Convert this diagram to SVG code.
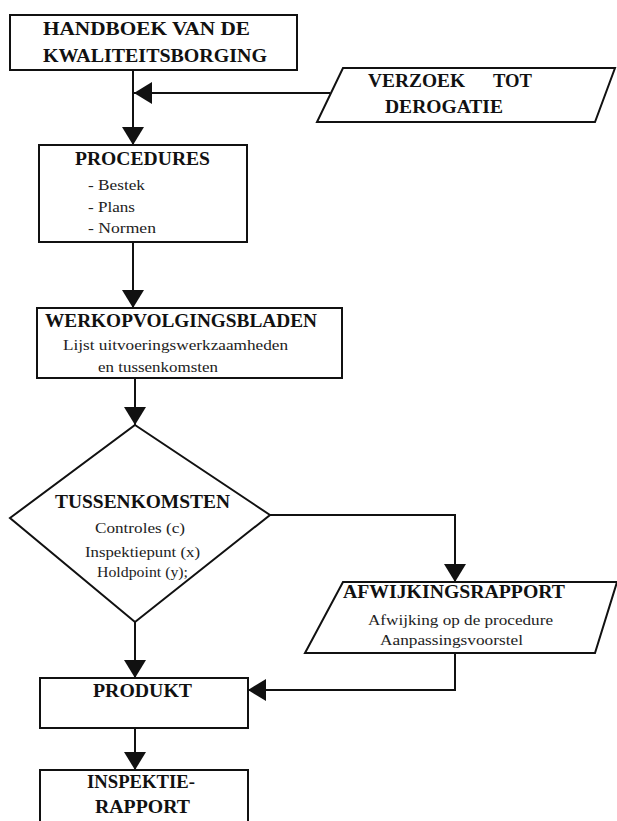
<svg xmlns="http://www.w3.org/2000/svg" width="617" height="821" viewBox="0 0 617 821">
<style>
.box{fill:#fff;stroke:#111;stroke-width:2}
.ln{fill:none;stroke:#111;stroke-width:2}
.h{font-weight:bold;font-size:18px;fill:#111}
.t{font-size:15px;fill:#222}
</style>
<defs>
<marker id="ah" viewBox="0 0 18 22" refX="18" refY="11" markerWidth="18" markerHeight="22" markerUnits="userSpaceOnUse" orient="auto">
<path d="M0,0 L18,11 L0,22 Z" fill="#111"/>
</marker>
</defs>
<rect width="617" height="821" fill="#fff"/>
<g id="connectors">
<line class="ln" x1="133" y1="70" x2="133" y2="145" marker-end="url(#ah)"/>
<line class="ln" x1="330" y1="93" x2="134" y2="93" marker-end="url(#ah)"/>
<line class="ln" x1="133" y1="242" x2="133" y2="308" marker-end="url(#ah)"/>
<line class="ln" x1="135" y1="378" x2="135" y2="425" marker-end="url(#ah)"/>
<polyline class="ln" points="270,515 455,515 455,582" marker-end="url(#ah)"/>
<line class="ln" x1="135" y1="622" x2="135" y2="678" marker-end="url(#ah)"/>
<polyline class="ln" points="455,653 455,690 248,690" marker-end="url(#ah)"/>
<line class="ln" x1="135" y1="728" x2="135" y2="770" marker-end="url(#ah)"/>
</g>
<g font-family="Liberation Serif, serif">
<g id="handboek">
<rect class="box" x="10" y="15" width="287" height="55"/>
<text class="h" x="43" y="35" textLength="207" lengthAdjust="spacingAndGlyphs">HANDBOEK  VAN  DE</text>
<text class="h" x="43" y="62" textLength="224" lengthAdjust="spacingAndGlyphs">KWALITEITSBORGING</text>
</g>
<g id="verzoek">
<polygon class="box" points="343,68 615,68 595,122 317,122"/>
<text class="h" x="368" y="87" textLength="97" lengthAdjust="spacingAndGlyphs">VERZOEK</text>
<text class="h" x="493" y="87" textLength="39" lengthAdjust="spacingAndGlyphs">TOT</text>
<text class="h" x="385" y="113" textLength="118" lengthAdjust="spacingAndGlyphs">DEROGATIE</text>
</g>
<g id="procedures">
<rect class="box" x="39" y="145" width="208" height="97"/>
<text class="h" x="75" y="165" textLength="135" lengthAdjust="spacingAndGlyphs">PROCEDURES</text>
<text class="t" x="88" y="190" textLength="57" lengthAdjust="spacingAndGlyphs">- Bestek</text>
<text class="t" x="88" y="212" textLength="47" lengthAdjust="spacingAndGlyphs">- Plans</text>
<text class="t" x="88" y="233" textLength="68" lengthAdjust="spacingAndGlyphs">- Normen</text>
</g>
<g id="werkopvolging">
<rect class="box" x="37" y="308" width="305" height="70"/>
<text class="h" x="45" y="327" textLength="272" lengthAdjust="spacingAndGlyphs">WERKOPVOLGINGSBLADEN</text>
<text class="t" x="63" y="350" textLength="225" lengthAdjust="spacingAndGlyphs">Lijst uitvoeringswerkzaamheden</text>
<text class="t" x="98" y="372" textLength="120" lengthAdjust="spacingAndGlyphs">en tussenkomsten</text>
</g>
<g id="tussenkomsten">
<polygon class="box" points="135,425 270,515 135,622 10,518"/>
<text class="h" x="55" y="508" textLength="175" lengthAdjust="spacingAndGlyphs">TUSSENKOMSTEN</text>
<text class="t" x="95" y="533" textLength="90" lengthAdjust="spacingAndGlyphs">Controles (c)</text>
<text class="t" x="85" y="557" textLength="115" lengthAdjust="spacingAndGlyphs">Inspektiepunt (x)</text>
<text class="t" x="97" y="577" textLength="91" lengthAdjust="spacingAndGlyphs">Holdpoint (y);</text>
</g>
<g id="afwijkingsrapport">
<polygon class="box" points="343,582 617,582 595,653 305,653"/>
<text class="h" x="343" y="598" textLength="222" lengthAdjust="spacingAndGlyphs">AFWIJKINGSRAPPORT</text>
<text class="t" x="368" y="625" textLength="185" lengthAdjust="spacingAndGlyphs">Afwijking op de procedure</text>
<text class="t" x="380" y="645" textLength="143" lengthAdjust="spacingAndGlyphs">Aanpassingsvoorstel</text>
</g>
<g id="produkt">
<rect class="box" x="40" y="678" width="208" height="50"/>
<text class="h" x="93" y="697" textLength="99" lengthAdjust="spacingAndGlyphs">PRODUKT</text>
</g>
<g id="inspektierapport">
<rect class="box" x="40" y="770" width="208" height="60"/>
<text class="h" x="87" y="788" textLength="108" lengthAdjust="spacingAndGlyphs">INSPEKTIE-</text>
<text class="h" x="95" y="813" textLength="95" lengthAdjust="spacingAndGlyphs">RAPPORT</text>
</g>
</g>
</svg>
